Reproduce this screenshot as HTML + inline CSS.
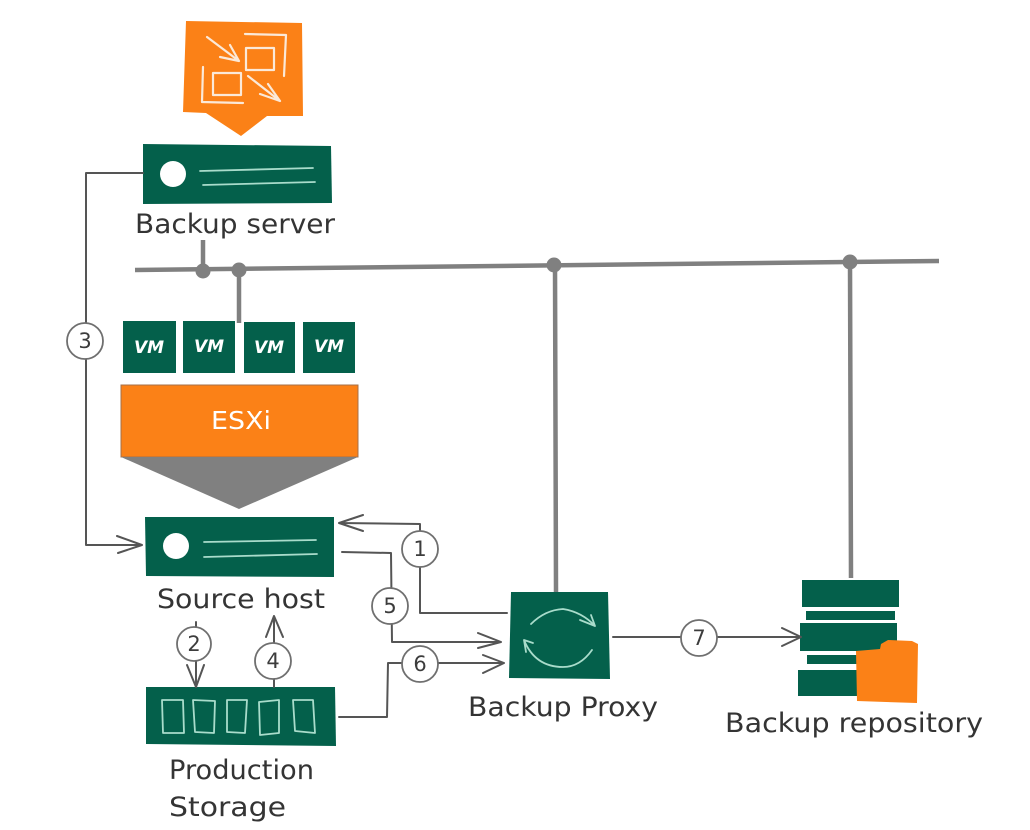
<!DOCTYPE html>
<html lang="en">
<head>
<meta charset="utf-8">
<title>Backup diagram</title>
<style>
html,body{margin:0;padding:0;background:#fff;width:1030px;height:830px;overflow:hidden}
svg{display:block}
.lbl{font-family:"DejaVu Sans","Liberation Sans",sans-serif;font-size:27px;fill:#343434}
.num{font-family:"DejaVu Sans","Liberation Sans",sans-serif;font-size:21px;fill:#3c3c3c;text-anchor:middle}
.vm{font-family:"DejaVu Sans","Liberation Sans",sans-serif;font-size:17px;font-weight:bold;fill:#fff;text-anchor:middle;font-style:italic}
.c{fill:#fff;stroke:#6f6f6f;stroke-width:1.8}
.l{fill:none;stroke:#555;stroke-width:2;stroke-linejoin:round;stroke-linecap:round}
.w{fill:none;stroke:#fbe9d8;stroke-width:2.2;stroke-linecap:round;stroke-linejoin:round}
.m{fill:none;stroke:#a9dccb;stroke-width:1.8;stroke-linecap:round;stroke-linejoin:round}
.g{fill:#04604b}
.b{fill:none;stroke:#808080;stroke-width:4.5}
</style>
</head>
<body>
<svg width="1030" height="830" viewBox="0 0 1030 830" xmlns="http://www.w3.org/2000/svg">
<rect width="1030" height="830" fill="#fff"/>

<!-- top orange icon -->
<polygon points="186,21 302,23 303,116 267,116 241,136 206,113 183,112" fill="#fb8117"/>
<rect x="246" y="48" width="28" height="22" class="w"/>
<rect x="213" y="73" width="28" height="22" class="w"/>
<path class="w" d="M245,34 L286,35 L284,76"/>
<path class="w" d="M203,67 L202,102 L243,103"/>
<path class="w" d="M207,37 L239,61 M230,45 L239,61 L220,57"/>
<path class="w" d="M248,76 L280,101 M268,84 L280,101 L260,94"/>

<!-- backup server -->
<polygon points="143,144 331,146 332,203 143,204" class="g"/>
<circle cx="173" cy="174" r="13" fill="#fff"/>
<path class="m" d="M200,171 L313,168 M203,185 L315,182"/>
<text class="lbl" x="135" y="233" textLength="200" lengthAdjust="spacingAndGlyphs">Backup server</text>

<!-- bus -->
<path class="b" d="M135,270 L939,261"/>
<path class="b" d="M203,240 L203,271 M239,270 L239,323 M555,265 L556,592 M850,262 L851,578"/>
<circle cx="203" cy="271" r="7.5" fill="#808080"/>
<circle cx="239" cy="270" r="7.5" fill="#808080"/>
<circle cx="554" cy="265" r="7.5" fill="#808080"/>
<circle cx="850" cy="262" r="7.5" fill="#808080"/>

<!-- VMs -->
<rect x="123" y="321" width="53" height="52" class="g"/>
<rect x="183" y="321" width="52" height="52" class="g"/>
<rect x="244" y="322" width="51" height="51" class="g"/>
<rect x="303" y="322" width="52" height="51" class="g"/>
<text class="vm" x="149" y="353">VM</text>
<text class="vm" x="209" y="352">VM</text>
<text class="vm" x="269" y="353">VM</text>
<text class="vm" x="329" y="352">VM</text>

<!-- ESXi -->
<rect x="121" y="385" width="237" height="72" fill="#fb8117" stroke="#a5704a" stroke-width="1"/>
<polygon points="121,457 358,457 239,509" fill="#808080"/>
<text x="241" y="429" font-family="'DejaVu Sans','Liberation Sans',sans-serif" font-size="25" fill="#fff" text-anchor="middle" textLength="60" lengthAdjust="spacingAndGlyphs">ESXi</text>

<!-- source host -->
<polygon points="145,517 334,517 334,577 146,576" class="g"/>
<circle cx="176" cy="546" r="13" fill="#fff"/>
<path class="m" d="M204,542 L316,540 M204,557 L317,554"/>
<text class="lbl" x="157" y="608" textLength="168" lengthAdjust="spacingAndGlyphs">Source host</text>

<!-- storage -->
<polygon points="146,687 335,687 336,746 146,744" class="g"/>
<path class="m" d="M162,700 L183,700 L184,733 L163,733 Z M193,700 L215,701 L214,733 L195,732 Z M227,700 L247,700 L245,733 L227,732 Z M259,702 L279,700 L279,733 L260,735 Z M293,700 L313,700 L315,733 L295,731 Z"/>
<text class="lbl" x="169" y="779" textLength="145" lengthAdjust="spacingAndGlyphs">Production</text>
<text class="lbl" x="169" y="816" textLength="117" lengthAdjust="spacingAndGlyphs">Storage</text>

<!-- proxy -->
<polygon points="511,592 608,592 610,679 509,678" class="g"/>
<path class="m" d="M531,624 Q545,610 563,609 Q582,612 595,626 M591,615 L595,626 L580,620"/>
<path class="m" d="M592,650 Q580,667 563,667 Q535,667 524,640 M533,643 L524,640 L526,652"/>
<text class="lbl" x="468" y="716" textLength="190" lengthAdjust="spacingAndGlyphs">Backup Proxy</text>

<!-- repository -->
<rect x="802" y="580" width="97" height="27" class="g"/>
<rect x="806" y="611" width="89" height="9" class="g"/>
<rect x="800" y="623" width="97" height="28" class="g"/>
<rect x="807" y="655" width="50" height="9" class="g"/>
<rect x="798" y="670" width="59" height="26" class="g"/>
<polygon points="856,651 880,649 881,644 888,640 912,641 918,644 917,703 857,701" fill="#fb8117"/>
<text class="lbl" x="725" y="732" textLength="258" lengthAdjust="spacingAndGlyphs">Backup repository</text>

<!-- connectors -->
<path class="l" d="M143,173 L86,173 L86,545 L142,545 M117,536 L142,545 L118,553"/>
<path class="l" d="M507,613 L420,613 L420,524 L339,523 M363,515 L339,523 L363,531"/>
<path class="l" d="M342,552 L391,553 L392,642 L501,642 M478,633 L501,642 L478,648"/>
<path class="l" d="M339,717 L387,717 L388,663 L504,663 M483,655 L504,663 L483,673"/>
<path class="l" d="M196,622 L196,687 M187,665 L196,687 L204,665"/>
<path class="l" d="M274,687 L274,616 M266,637 L274,616 L283,637"/>
<path class="l" d="M613,637 L801,637 M782,628 L801,637 L782,646"/>

<!-- number circles -->
<circle class="c" cx="85" cy="341" r="18"/><text class="num" x="85" y="348">3</text>
<circle class="c" cx="420" cy="549" r="18"/><text class="num" x="420" y="556">1</text>
<circle class="c" cx="390" cy="606" r="18"/><text class="num" x="390" y="613">5</text>
<circle class="c" cx="420" cy="664" r="18"/><text class="num" x="420" y="671">6</text>
<circle class="c" cx="194" cy="644" r="17"/><text class="num" x="194" y="651">2</text>
<circle class="c" cx="273" cy="661" r="18"/><text class="num" x="273" y="668">4</text>
<circle class="c" cx="699" cy="638" r="18"/><text class="num" x="699" y="645">7</text>
</svg>
</body>
</html>
